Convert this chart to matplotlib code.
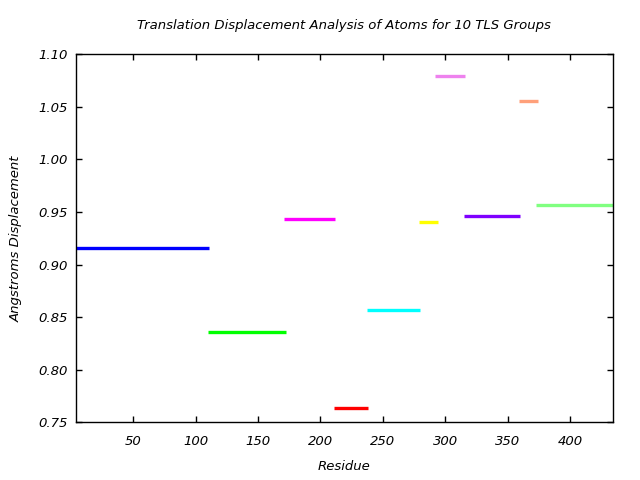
import matplotlib
matplotlib.use("Agg")
import matplotlib.pyplot as plt

# TLS groups: residue start, residue end, displacement
seg_start = [4, 110, 171, 211, 237, 279, 292, 315, 359, 373]
seg_end = [111, 172, 212, 238, 280, 294, 316, 360, 374, 434]
displacement = [0.9155, 0.8355, 0.943, 0.7633, 0.8565, 0.9402, 1.079, 0.9459, 1.0553, 0.9564]
colors = ["#0000ff", "#00ff00", "#ff00ff", "#ff0000", "#00ffff",
          "#ffff00", "#ee82ee", "#7f00ff", "#ffa07a", "#80ff80"]

xticks = [50, 100, 150, 200, 250, 300, 350, 400]
yticks = [0.75, 0.80, 0.85, 0.90, 0.95, 1.00, 1.05, 1.10]

fig = plt.figure(figsize=(6.4, 4.8), dpi=100)
ax = fig.add_axes([0.1183, 0.1202, 0.839, 0.7667])

for i in range(len(displacement)):
    ax.plot([seg_start[i], seg_end[i]], [displacement[i], displacement[i]],
            color=colors[i], linewidth=2.4, solid_capstyle="butt")

ax.set_xlim(4, 434)
ax.set_ylim(0.75, 1.10)
ax.set_xticks(xticks)
ax.set_yticks(yticks)
ax.set_yticklabels(["%.2f" % v for v in yticks])

ax.tick_params(direction="in", length=4.5, width=1, top=True, right=True,
               labelsize=9.5)
ax.tick_params(axis="x", pad=9)
ax.tick_params(axis="y", pad=6)
for lab in ax.get_xticklabels() + ax.get_yticklabels():
    lab.set_fontstyle("italic")
for s in ax.spines.values():
    s.set_linewidth(1)

ax.set_title("Translation Displacement Analysis of Atoms for 10 TLS Groups",
             fontsize=9.5, style="italic", pad=18)
ax.set_xlabel("Residue", fontsize=9.5, style="italic", labelpad=9)
ax.set_ylabel("Angstroms Displacement", fontsize=9.5, style="italic", labelpad=11)

fig.savefig("out.png", dpi=100)
